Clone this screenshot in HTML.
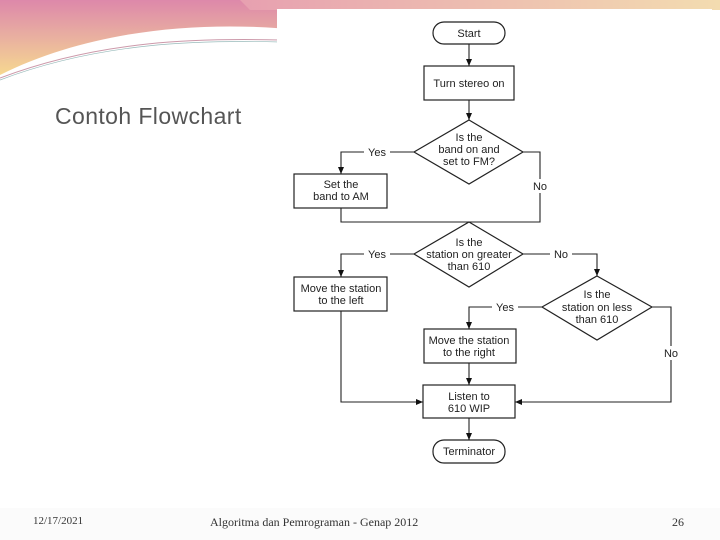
<!DOCTYPE html>
<html><head><meta charset="utf-8"><style>
html,body{margin:0;padding:0}
body{width:720px;height:540px;position:relative;overflow:hidden;background:#fff;font-family:"Liberation Sans",sans-serif}
.t{position:absolute;color:#333}
</style></head><body>
<svg width="720" height="540" style="position:absolute;left:0;top:0">
<defs>
<linearGradient id="g" x1="0" y1="0" x2="0" y2="1">
<stop offset="0" stop-color="#dd88aa"/><stop offset="0.5" stop-color="#e9b0a0"/><stop offset="1" stop-color="#f6d890"/>
</linearGradient>
<linearGradient id="g2" x1="0" y1="0" x2="1" y2="0">
<stop offset="0" stop-color="#e7a0b0"/><stop offset="1" stop-color="#f3dcb0"/>
</linearGradient>
<marker id="a" markerWidth="8" markerHeight="8" refX="7" refY="4" orient="auto" markerUnits="userSpaceOnUse">
<path d="M0,1 L7,4 L0,7 z" fill="#111"/></marker>
</defs>
<path d="M0,0 H300 V30 C200,20 90,30 0,75 Z" fill="url(#g)"/>
<path d="M240,0 H720 V10 H250 Z" fill="url(#g2)"/>
<path d="M0,78 C100,40 200,38 280,40" stroke="#c9a" fill="none"/>
<path d="M0,80 C100,42 200,40 280,42" stroke="#9bb" fill="none" stroke-width="0.7"/>
<rect x="277" y="9" width="435" height="499" fill="#fff"/>
<rect x="0" y="508" width="720" height="32" fill="#fbfbfb"/>
<g stroke="#222" stroke-width="1.2" fill="#fff">
<rect x="433" y="22" width="72" height="22" rx="11"/>
<rect x="424" y="66" width="90" height="34"/>
<polygon points="469,120 523,152 469,184 414,152"/>
<rect x="294" y="174" width="93" height="34"/>
<polygon points="469,222 523,254 469,287 414,254"/>
<rect x="294" y="277" width="93" height="34"/>
<polygon points="597,276 652,307 597,340 542,307"/>
<rect x="424" y="329" width="92" height="34"/>
<rect x="423" y="385" width="92" height="33"/>
<rect x="433" y="440" width="72" height="23" rx="11"/>
</g>
<g stroke="#222" stroke-width="1.1" fill="none">
<path d="M469,44 V66" marker-end="url(#a)"/>
<path d="M469,100 V120" marker-end="url(#a)"/>
<path d="M414,152 H341 V174" marker-end="url(#a)"/>
<path d="M523,152 H540 V222 H341 V208"/>
<path d="M414,254 H341 V277" marker-end="url(#a)"/>
<path d="M523,254 H597 V276" marker-end="url(#a)"/>
<path d="M542,307 H469 V329" marker-end="url(#a)"/>
<path d="M652,307 H671 V402 H515" marker-end="url(#a)"/>
<path d="M341,311 V402 H423" marker-end="url(#a)"/>
<path d="M469,363 V385" marker-end="url(#a)"/>
<path d="M469,418 V440" marker-end="url(#a)"/>
</g>
<g font-family="Liberation Sans,sans-serif" font-size="11" fill="#222" text-anchor="middle">
<text x="469" y="37">Start</text>
<text x="469" y="87">Turn stereo on</text>
<text x="469" y="141">Is the</text><text x="469" y="153">band on and</text><text x="469" y="165">set to FM?</text>
<text x="341" y="188">Set the</text><text x="341" y="200">band to AM</text>
<rect x="364" y="145" width="26" height="14" fill="#fff"/><text x="377" y="156">Yes</text>
<rect x="530" y="179" width="20" height="14" fill="#fff"/><text x="540" y="190">No</text>
<text x="469" y="246">Is the</text><text x="469" y="258">station on greater</text><text x="469" y="270">than 610</text>
<rect x="364" y="247" width="26" height="14" fill="#fff"/><text x="377" y="258">Yes</text>
<rect x="550" y="247" width="22" height="14" fill="#fff"/><text x="561" y="258">No</text>
<text x="341" y="292">Move the station</text><text x="341" y="304">to the left</text>
<text x="597" y="298">Is the</text><text x="597" y="311">station on less</text><text x="597" y="323">than 610</text>
<rect x="492" y="300" width="26" height="14" fill="#fff"/><text x="505" y="311">Yes</text>
<rect x="661" y="346" width="20" height="14" fill="#fff"/><text x="671" y="357">No</text>
<text x="469" y="344">Move the station</text><text x="469" y="356">to the right</text>
<text x="469" y="400">Listen to</text><text x="469" y="412">610 WIP</text>
<text x="469" y="455">Terminator</text>
</g>
</svg>
<div class="t" style="left:55px;top:103px;font-size:23px;letter-spacing:0.4px;color:#555">Contoh Flowchart</div>
<div class="t" style="left:33px;top:515px;font-size:11px;font-family:'Liberation Serif',serif">12/17/2021</div>
<div class="t" style="left:210px;top:515px;font-size:12px;font-family:'Liberation Serif',serif">Algoritma dan Pemrograman - Genap 2012</div>
<div class="t" style="left:672px;top:515px;font-size:12px;font-family:'Liberation Serif',serif">26</div>
</body></html>
